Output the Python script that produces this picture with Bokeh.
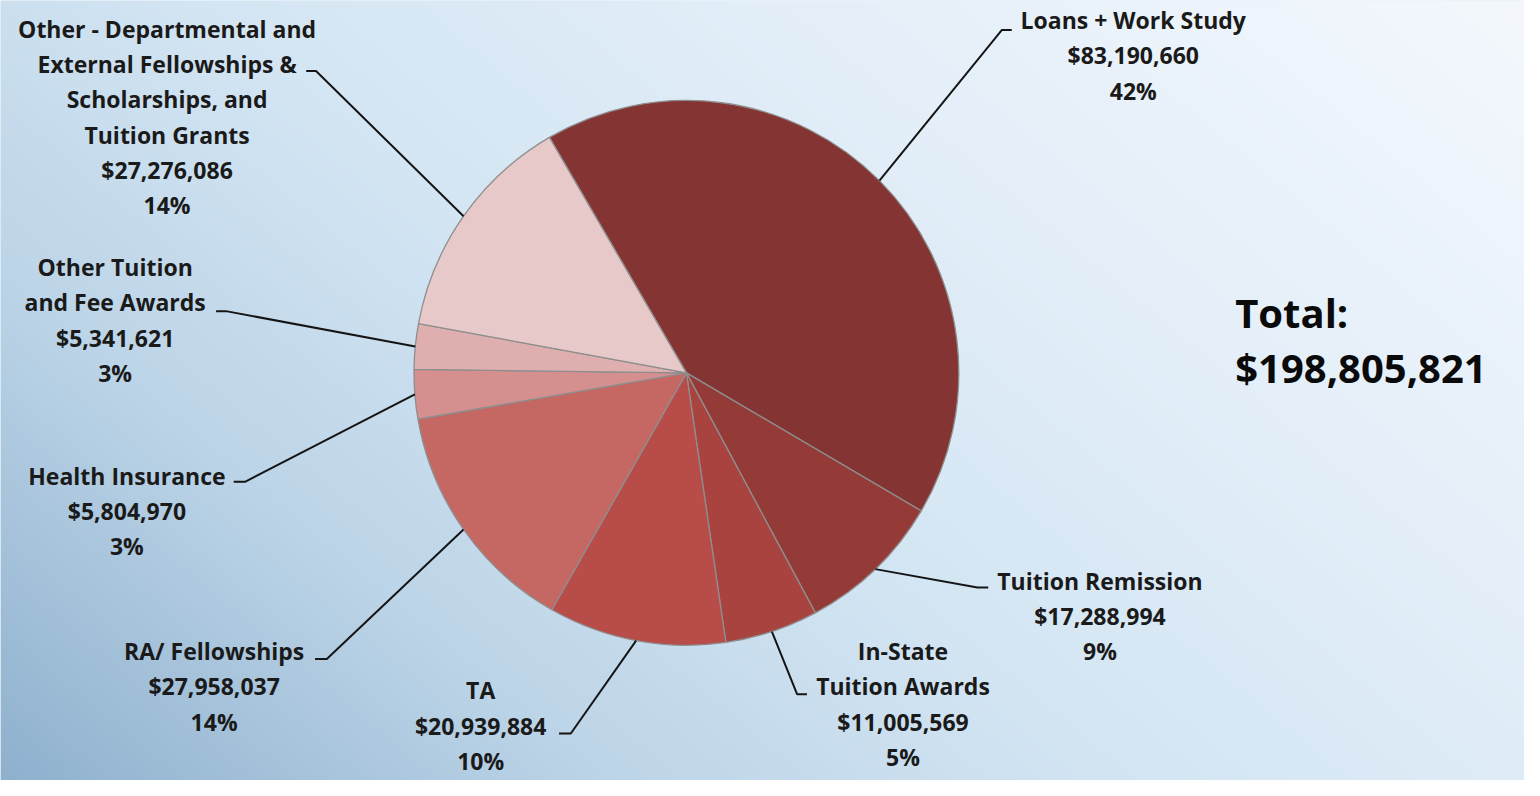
import numpy as np
from bokeh.plotting import figure
from bokeh.models import Range1d, ColumnDataSource
from bokeh.core.properties import value
from bokeh.embed import file_html
from bokeh.resources import INLINE

# ---------------- data ----------------
categories = [
    "Loans + Work Study",
    "Tuition Remission",
    "In-State\nTuition Awards",
    "TA",
    "RA/ Fellowships",
    "Health Insurance",
    "Other Tuition\nand Fee Awards",
    "Other - Departmental and\nExternal Fellowships &\nScholarships, and\nTuition Grants",
]
amounts = [83190660, 17288994, 11005569, 20939884, 27958037, 5804970, 5341621, 27276086]
percent_labels = ["42%", "9%", "5%", "10%", "14%", "3%", "3%", "14%"]
colors = ["#843432", "#943b38", "#a8433f", "#b84c48", "#c56864", "#d48f8e", "#dfafaf", "#e8c9c9"]
total_label = "$198,805,821"

# ---------------- layout (reference pixel coordinates, y downward) ----------------
W, H = 1540, 796
FIG_W, FIG_H = 1524, 780
S = FIG_H / H
CX, CY, R = 700, 380, 278
START_DEG = -30.2  # clockwise from 12 o'clock
label_cx = [1156, 1122, 921, 490, 218, 129, 117, 170]
label_top = [20, 592, 664, 704, 664, 485, 272, 29]
elbow = [(1022, 30), (997, 599), (813, 708), (582, 748), (333, 672), (250, 491), (230, 317), (322, 72)]
leader_end = [(1032, 30), (1008, 599), (823, 708), (570, 748), (321, 672), (238, 491), (220, 317), (312, 72)]
LINE_STEP = 36

def fy(Y):
    return H - Y

p = figure(width=FIG_W, height=FIG_H, output_backend="svg", toolbar_location=None,
           x_range=Range1d(0, FIG_W / S), y_range=Range1d(0, H),
           x_axis_type=None, y_axis_type=None, min_border=0)
p.grid.visible = False
p.outline_line_color = None
p.background_fill_color = "#d8e8f4"
p.border_fill_color = "#d8e8f4"

# ---------------- background gradient ----------------
nx, ny = 780, 400
gx = np.linspace(0, 1, nx)[None, :]
gu = np.linspace(0, 1, ny)[:, None]  # 0 = bottom, 1 = top
t = 0.62 * gx + 0.38 * gu
stops = [0.0, 0.25, 0.45, 0.7, 1.0]
rs = [0x8f, 0xbd, 0xd3, 0xe4, 0xf4]
gs = [0xb1, 0xd5, 0xe5, 0xef, 0xf8]
bs = [0xce, 0xe8, 0xf3, 0xf9, 0xfd]
img = np.empty((ny, nx), dtype=np.uint32)
view = img.view(dtype=np.uint8).reshape((ny, nx, 4))
view[..., 0] = np.interp(t, stops, rs).astype(np.uint8)
view[..., 1] = np.interp(t, stops, gs).astype(np.uint8)
view[..., 2] = np.interp(t, stops, bs).astype(np.uint8)
view[..., 3] = 255
p.image_rgba(image=[img], x=0, y=0, dw=FIG_W / S, dh=H)

# ---------------- pie ----------------
total = float(sum(amounts))
spans = [a / total * 360.0 for a in amounts]
theta0 = START_DEG + np.concatenate([[0], np.cumsum(spans)[:-1]])
theta1 = START_DEG + np.cumsum(spans)
mid = (theta0 + theta1) / 2
src = ColumnDataSource(dict(
    start=np.radians(90 - theta1), end=np.radians(90 - theta0), color=colors))
p.wedge(x=CX, y=fy(CY), radius=R, start_angle="start", end_angle="end",
        direction="anticlock", fill_color="color", line_color="#8e8e8e",
        line_width=1.3, source=src)

# ---------------- leader lines ----------------
xs, ys = [], []
for i, m in enumerate(mid):
    a = np.radians(90 - m)
    sx, sy = CX + R * np.cos(a), CY - R * np.sin(a)
    xs.append([sx, elbow[i][0], leader_end[i][0]])
    ys.append([fy(sy), fy(elbow[i][1]), fy(leader_end[i][1])])
p.multi_line(xs=xs, ys=ys, line_color="#151515", line_width=2)

# ---------------- labels ----------------
tx, ty, tt = [], [], []
for i, name in enumerate(categories):
    lines = name.split("\n") + [f"${amounts[i]:,}", percent_labels[i]]
    for k, ln in enumerate(lines):
        tx.append(label_cx[i])
        ty.append(fy(label_top[i] + k * LINE_STEP))
        tt.append(ln)
p.text(x=tx, y=ty, text=tt, text_align="center", text_baseline="middle",
       text_font=value("Open Sans"), text_font_style="bold", text_font_size="23px",
       text_color="#1a1a1a")

p.text(x=[1260, 1260], y=[fy(318), fy(375)], text=["Total:", total_label],
       text_align="left", text_baseline="middle", text_font=value("Open Sans"),
       text_font_style="bold", text_font_size="40px", text_color="#0a0a0a")

open("out.html", "w").write(file_html(p, INLINE))
